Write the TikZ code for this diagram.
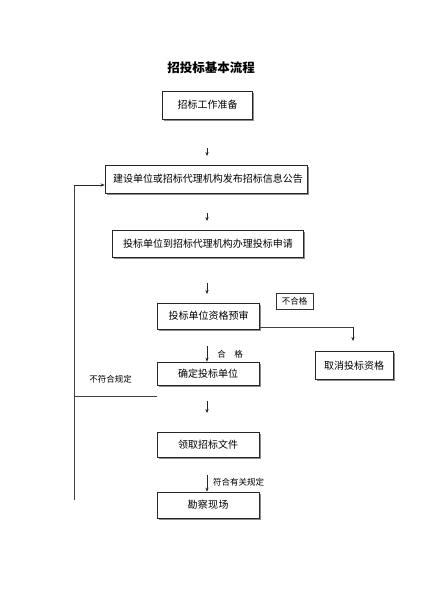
\documentclass[tikz,border=0pt]{standalone}
\usepackage{fontspec}
\newfontfamily\cjk{Noto Sans CJK SC}
\usetikzlibrary{shadows,arrows.meta}
\def\gobbleone#1{}
\def\lspx#1#2{#1\ifx\relax#2\expandafter\gobbleone\else\hfil\expandafter\lspx\fi #2}
\newcommand\spreadto[2]{\hbox to #1{\lspx #2\relax}}
\tikzset{
  box/.style={draw=black!85, line width=0.7pt, fill=white, inner sep=0pt,
    drop shadow={shadow xshift=1.6pt, shadow yshift=-1.6pt, fill=black!45, opacity=1},
    font=\cjk\fontsize{10}{12}\selectfont},
  small/.style={font=\cjk\fontsize{8.5}{10}\selectfont, inner sep=0pt},
  arr/.style={line width=0.6pt, draw=black!85, -{Stealth[length=4pt,width=3.2pt]}},
  ln/.style={line width=0.6pt, draw=black!75},
}
\begin{document}
\begin{tikzpicture}[x=1pt,y=-1pt]
\fill[white] (0,0) rectangle (422,598);
\useasboundingbox (0,0) rectangle (422,598);
\node[font=\cjk\bfseries\fontsize{12.5}{14}\selectfont] (title) at (211,68) {招投标基本流程};
\node[box, minimum width=90pt, minimum height=28pt] (b1) at (207,105) {\spreadto{59pt}{招标工作准备}};
\node[box, minimum width=202pt, minimum height=28pt] (b2) at (206,179) {\spreadto{186pt}{建设单位或招标代理机构发布招标信息公告}};
\node[box, minimum width=191pt, minimum height=27pt] (b3) at (207.5,243.5) {\spreadto{169pt}{投标单位到招标代理机构办理投标申请}};
\node[box, minimum width=102pt, minimum height=26pt] (b4) at (208,316) {\spreadto{79pt}{投标单位资格预审}};
\node[draw=black!80, line width=0.6pt, minimum width=37pt, minimum height=16pt, small] (ng) at (294.5,301) {不合格};
\node[box, minimum width=78pt, minimum height=28pt] (b5) at (354,365.5) {\spreadto{60pt}{取消投标资格}};
\node[box, minimum width=102pt, minimum height=23pt] (b6) at (208,373.5) {\spreadto{60pt}{确定投标单位}};
\node[box, minimum width=102pt, minimum height=25pt] (b7) at (208,444.5) {\spreadto{60pt}{领取招标文件}};
\node[box, minimum width=102pt, minimum height=26pt] (b8) at (208,505) {\spreadto{41pt}{勘察现场}};
% short arrows
\coordinate (a1s) at (207,148); \coordinate (a1e) at (207,156);
\coordinate (a2s) at (207,213); \coordinate (a2e) at (207,221);
\coordinate (a3s) at (207,283); \coordinate (a3e) at (207,294);
\coordinate (a5s) at (207,401); \coordinate (a5e) at (207,413);
\draw[arr] (a1s) -- (a1e);
\draw[arr] (a2s) -- (a2e);
\draw[arr] (a3s) -- (a3e);
\draw[arr] (a5s) -- (a5e);
\coordinate (a4s) at (207,346);
\draw[arr] (a4s) -- (b6.north -| a4s);
\node[small] (l1) at (230,354) {合\hspace{1em}格};
\coordinate (a6s) at (207,475);
\draw[arr] (a6s) -- (b8.north -| a6s);
\node[small] (l2) at (238.5,482) {符合有关规定};
% reject path
\coordinate (r1) at (353,327);
\coordinate (r2) at (353,341);
\draw[ln] (b4.east |- r1) -- (r1);
\draw[arr] (r1) -- (r2);
% loop back
\coordinate (lb) at (74,500);
\coordinate (lt) at (74,185);
\draw[ln] (lb) -- (lt);
\draw[arr] (lt) -- (b2.west |- lt);
\coordinate (h1) at (74,396);
\coordinate (h2) at (157,396);
\draw[ln] (h1) -- (h2);
\node[small] (l3) at (110.5,379) {不符合规定};
\end{tikzpicture}
\end{document}
